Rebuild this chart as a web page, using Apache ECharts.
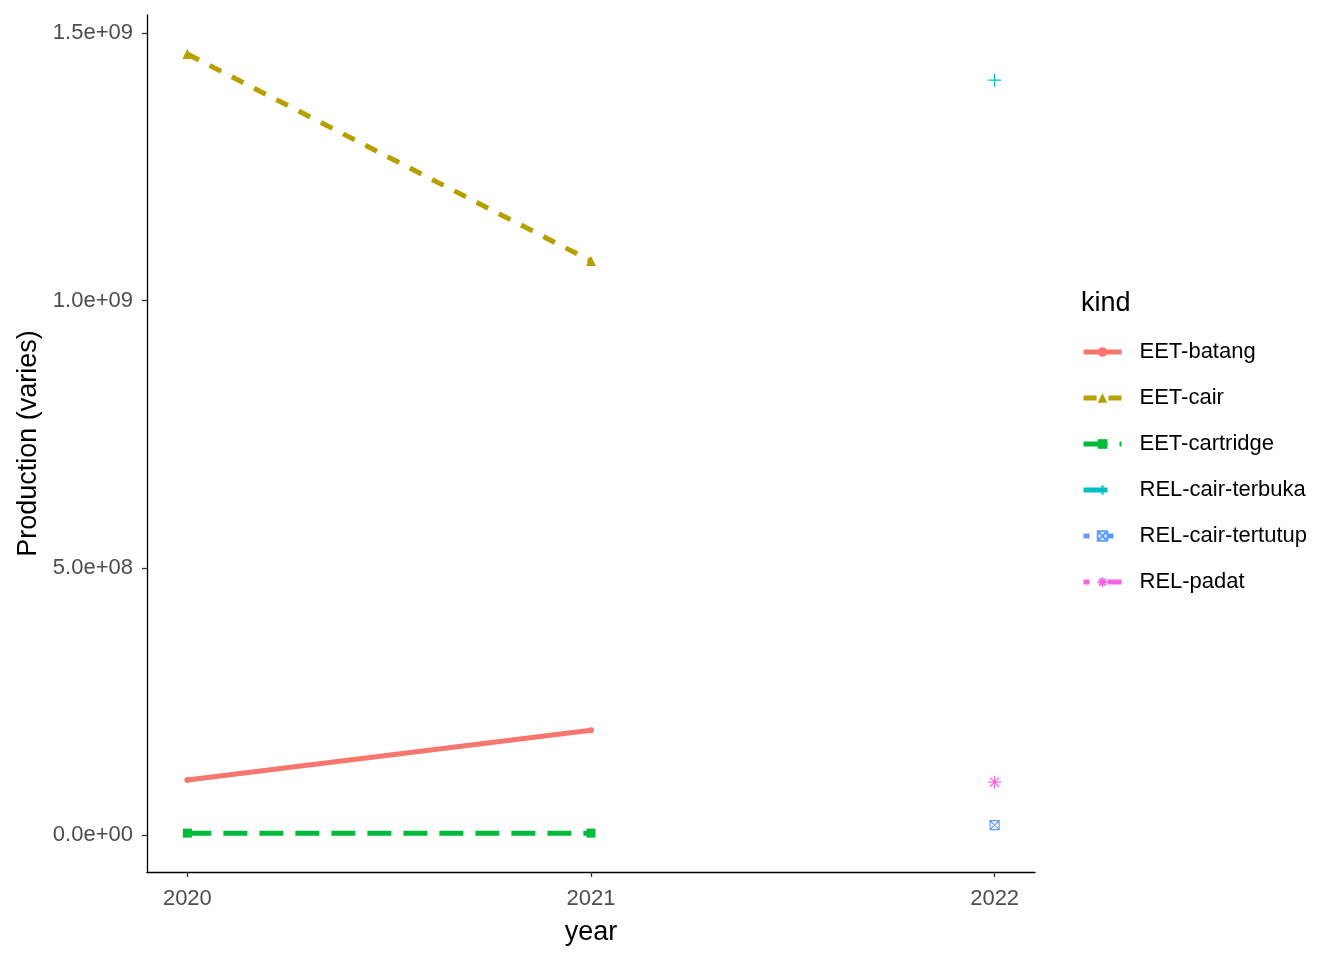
<!DOCTYPE html>
<html><head><meta charset="utf-8">
<script src="https://cdn.jsdelivr.net/npm/echarts@6/dist/echarts.min.js"></script>
<style>html,body{margin:0;padding:0;background:#fff}#c{width:1344px;height:960px}</style>
</head><body><div id="c"></div>
<script>
const years = [2020, 2021, 2022];
const kinds = ['EET-batang','EET-cair','EET-cartridge','REL-cair-terbuka','REL-cair-tertutup','REL-padat'];
const eetBatang = [[2020, 1.03e8],[2021, 1.96e8]];
const eetCair = [[2020, 1.461e9],[2021, 1.074e9]];
const eetCartridge = [[2020, 3.7e6],[2021, 3.7e6]];
const relCairTerbuka = [[2022, 1.412e9]];
const relCairTertutup = [[2022, 1.87e7]];
const relPadat = [[2022, 9.9e7]];
const yTicks = [0, 5e8, 1e9, 1.5e9];
const yTickLabels = ['0.0e+00','5.0e+08','1.0e+09','1.5e+09'];
const xTickLabels = ['2020','2021','2022'];

const colors = ['#F8766D','#B79F00','#00BA38','#00BFC4','#619CFF','#F564E3'];
const font = 'Liberation Sans, Arial, sans-serif';
const LW = 5;

function lineSeries(name, data, color, dash, symbol, size, stroked) {
  return {
    name, type: 'line', data,
    symbol, symbolSize: size,
    showSymbol: true,
    lineStyle: {color, width: LW, type: dash, cap: 'butt'},
    itemStyle: stroked ? {color: 'rgba(0,0,0,0)', borderColor: color, borderWidth: 1.2}
                       : {color, borderWidth: 0},
    emphasis: {disabled: true},
    animation: false
  };
}

const chart = echarts.init(document.getElementById('c'), null, {renderer: 'canvas'});
chart.setOption({
  animation: false,
  title: {text: 'kind', left: 1076, top: 285, textStyle: {fontFamily: font, fontSize: 27, fontWeight: 'normal', color: '#000'}},
  grid: {left: 147, right: 309, top: 15, bottom: 88},
  xAxis: {
    type: 'value', min: 2019.9, max: 2022.1,
    name: 'year', nameLocation: 'middle', nameGap: 47,
    nameTextStyle: {fontFamily: font, fontSize: 27, color: '#000'},
    axisLine: {show: true, onZero: false, lineStyle: {color: '#000', width: 1.3}},
    axisTick: {show: true, customValues: years, length: 5, lineStyle: {color: '#333', width: 1.3}},
    axisLabel: {customValues: years, margin: 16, fontFamily: font, fontSize: 22, color: '#4d4d4d',
      formatter: v => xTickLabels[years.indexOf(Math.round(v))] || ''},
    splitLine: {show: false}
  },
  yAxis: {
    type: 'value', min: -6.9e7, max: 1.534e9,
    name: 'Production (varies)', nameLocation: 'middle', nameGap: 105,
    nameTextStyle: {fontFamily: font, fontSize: 27, color: '#000'},
    axisLine: {show: true, onZero: false, lineStyle: {color: '#000', width: 1.3}},
    axisTick: {show: true, customValues: yTicks, length: 5, lineStyle: {color: '#333', width: 1.3}},
    axisLabel: {customValues: yTicks, margin: 14, fontFamily: font, fontSize: 22, color: '#4d4d4d',
      formatter: v => { const i = yTicks.findIndex(t => Math.abs(t - v) < 1); return i >= 0 ? yTickLabels[i] : ''; }},
    splitLine: {show: false}
  },
  legend: {
    orient: 'vertical', left: 1081, top: 341, padding: 0,
    itemWidth: 38, itemHeight: 12, itemGap: 24,
    data: kinds,
    lineStyle: {width: 5},
    textStyle: {fontFamily: font, fontSize: 22, color: '#000', lineHeight: 22, padding: [0,0,0,13]},
    selectedMode: false
  },
  series: [
    lineSeries(kinds[0], eetBatang, colors[0], 'solid', 'circle', 6, false),
    lineSeries(kinds[1], eetCair, colors[1], [13, 12], 'triangle', 10, false),
    lineSeries(kinds[2], eetCartridge, colors[2], [24, 12], 'rect', 9, false),
    lineSeries(kinds[3], relCairTerbuka, colors[3], [24, 24], 'path://M6,0L6,12M0,6L12,6', 13, true),
    lineSeries(kinds[4], relCairTertutup, colors[4], [6, 18], 'path://M0,0L8,0L8,8L0,8ZM0,0L8,8M8,0L0,8', 9, true),
    lineSeries(kinds[5], relPadat, colors[5], [6, 18, 24, 18], 'path://M6,0L6,12M0,6L12,6M1.8,1.8L10.2,10.2M10.2,1.8L1.8,10.2', 13, true)
  ]
});
</script>
</body></html>
